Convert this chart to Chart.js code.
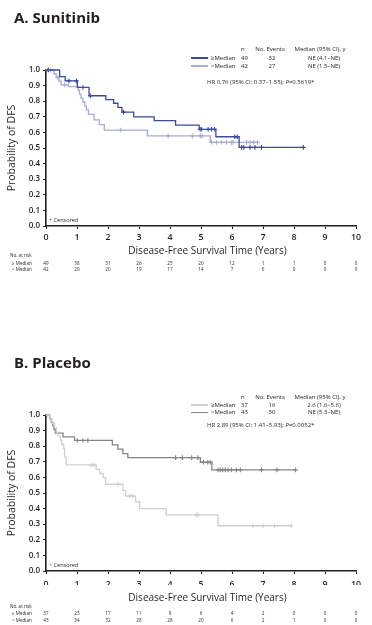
<!DOCTYPE html>
<html>
<head>
<meta charset="utf-8">
<script src="https://cdn.jsdelivr.net/npm/chart.js@4.4.1/dist/chart.umd.min.js"></script>
<style>
  html, body { margin: 0; padding: 0; background: #fff; }
  body { width: 372px; height: 625px; position: relative; overflow: hidden;
         font-family: "Open Sans", "Noto Sans", sans-serif; color: #231f20; }
  canvas { position: absolute; left: 0; }
  .t { position: absolute; white-space: nowrap; line-height: 1; }
</style>
</head>
<body>
<canvas id="chartA" width="372" height="240" style="top:0px"></canvas>
<canvas id="chartB" width="372" height="240" style="top:345px"></canvas>
<script>
// ---------- shared axis ticks ----------
const xTicks = [0, 1, 2, 3, 4, 5, 6, 7, 8, 9, 10];
const yTicks = [0, 0.1, 0.2, 0.3, 0.4, 0.5, 0.6, 0.7, 0.8, 0.9, 1.0];

// ---------- Panel A: Sunitinib ----------
const aHiTimes = [0, 0.44, 0.62, 1.01, 1.39, 1.93, 2.18, 2.32, 2.45, 2.83, 3.49, 4.18, 4.94, 5.48, 6.23, 8.30];
const aHiSurv  = [1.0, 0.957, 0.93, 0.888, 0.835, 0.81, 0.787, 0.76, 0.73, 0.70, 0.675, 0.647, 0.62, 0.572, 0.504, 0.504];
const aHiCens  = [0.08, 0.74, 0.98, 1.19, 1.43, 2.50, 4.97, 5.01, 5.23, 5.34, 5.44, 6.09, 6.17, 6.31, 6.38, 6.58, 6.74, 6.95, 8.30];

const aLoTimes = [0, 0.25, 0.33, 0.42, 0.49, 0.72, 1.03, 1.08, 1.13, 1.19, 1.25, 1.30, 1.37, 1.55, 1.72, 1.88, 3.27, 5.30, 6.82];
const aLoSurv  = [1.0, 0.976, 0.952, 0.928, 0.905, 0.893, 0.87, 0.845, 0.82, 0.795, 0.77, 0.745, 0.715, 0.68, 0.65, 0.615, 0.578, 0.536, 0.536];
const aLoCens  = [0.05, 0.15, 0.38, 0.60, 2.41, 3.94, 4.72, 4.98, 5.03, 5.34, 5.50, 5.66, 5.82, 5.98, 6.03, 6.47, 6.58, 6.70, 6.82];

const aHiRisk = [49, 38, 31, 26, 25, 20, 12, 1, 1, 0, 0];
const aLoRisk = [42, 29, 20, 19, 17, 14, 7, 0, 0, 0, 0];

// ---------- Panel B: Placebo ----------
const bHiTimes = [0, 0.12, 0.19, 0.27, 0.33, 0.38, 0.47, 0.51, 0.57, 0.60, 0.65, 1.62, 1.73, 1.84, 1.92, 2.48, 2.57, 2.89, 3.02, 3.88, 5.55, 7.91];
const bHiSurv  = [1.0, 0.973, 0.946, 0.919, 0.892, 0.865, 0.838, 0.811, 0.784, 0.73, 0.68, 0.652, 0.625, 0.598, 0.556, 0.515, 0.48, 0.444, 0.40, 0.36, 0.29, 0.29];
const bHiCens  = [0.06, 1.46, 1.55, 2.32, 2.70, 2.80, 4.85, 4.90, 6.67, 7.00, 7.37, 7.91];

const bLoTimes = [0, 0.12, 0.17, 0.22, 0.26, 0.30, 0.55, 0.92, 2.14, 2.32, 2.48, 2.64, 4.98, 5.35, 8.05];
const bLoSurv  = [1.0, 0.977, 0.953, 0.93, 0.907, 0.884, 0.86, 0.837, 0.809, 0.781, 0.753, 0.727, 0.697, 0.648, 0.648];
const bLoCens  = [1.01, 1.19, 1.35, 4.18, 4.40, 4.70, 4.90, 5.08, 5.22, 5.30, 5.55, 5.62, 5.70, 5.78, 5.87, 5.98, 6.14, 6.27, 6.95, 7.45, 8.05];

const bHiRisk = [37, 23, 17, 11, 9, 6, 4, 2, 0, 0, 0];
const bLoRisk = [43, 34, 32, 28, 28, 20, 6, 2, 1, 0, 0];

// ---------- style ----------
const FONT = '"Open Sans", "Noto Sans", sans-serif';
const TXT = '#231f20';
const AXIS = '#231f20';
const A_DARK = '#3d4a9b';
const A_LIGHT = '#a9acd8';
const B_DARK = '#858585';
const B_LIGHT = '#cfcfcf';

function stepValue(times, surv, t) {
  let v = surv[0];
  for (let i = 0; i < times.length; i++) if (times[i] <= t) v = surv[i];
  return v;
}

function buildChart(id, series, xPad) {
  const datasets = [];
  series.forEach(s => datasets.push({
    label: s.label,
    data: s.times.map((t, i) => ({ x: t, y: s.surv[i] })),
    showLine: true, stepped: 'before', borderColor: s.color, backgroundColor: s.color,
    borderWidth: 1.3, pointRadius: 0, fill: false, clip: false
  }));
  series.forEach(s => datasets.push({
    label: s.label + ' censored',
    data: s.cens.map(t => ({ x: t, y: stepValue(s.times, s.surv, t) })),
    showLine: false, pointStyle: 'cross', pointRadius: 2.3, pointBorderWidth: 1.1,
    borderColor: s.color, backgroundColor: s.color, clip: false
  }));
  return new Chart(document.getElementById(id), {
    type: 'scatter',
    data: { datasets },
    options: {
      responsive: false, animation: false, events: [],
      layout: { padding: { top: 70, left: 0, right: 16, bottom: 0 } },
      plugins: { legend: { display: false }, tooltip: { enabled: false } },
      scales: {
        x: {
          type: 'linear', min: 0, max: 10,
          afterBuildTicks: sc => { sc.ticks = xTicks.map(v => ({ value: v })); },
          afterFit: sc => { sc.height = 14; },
          grid: { drawOnChartArea: false, drawTicks: true, tickLength: 3, tickColor: AXIS, tickWidth: 1.1 },
          border: { color: AXIS, width: 1.6 },
          ticks: { color: TXT, font: { family: FONT, size: 8.8, weight: '600' }, padding: xPad,
                   maxRotation: 0, autoSkip: false, callback: v => String(v) }
        },
        y: {
          type: 'linear', min: 0, max: 1,
          afterBuildTicks: sc => { sc.ticks = yTicks.map(v => ({ value: v })); },
          afterFit: sc => { sc.width = 46; },
          grid: { drawOnChartArea: false, drawTicks: true, tickLength: 3, tickColor: AXIS, tickWidth: 1.1 },
          border: { color: AXIS, width: 1.6 },
          ticks: { color: TXT, font: { family: FONT, size: 8, weight: '600' }, padding: 3,
                   callback: v => Number(v).toFixed(1) },
          title: { display: true, text: 'Probability of DFS', color: TXT,
                   font: { family: FONT, size: 10.5 }, padding: { top: 5.5, bottom: 0 } }
        }
      }
    }
  });
}

function txt(html, x, cy, fs, opt) {
  opt = opt || {};
  const d = document.createElement('div');
  d.className = 't';
  d.innerHTML = html;
  d.style.fontSize = fs + 'px';
  d.style.top = (cy - 0.53 * fs) + 'px';
  if (opt.weight) d.style.fontWeight = opt.weight;
  if (opt.color) d.style.color = opt.color;
  const align = opt.align || 'left';
  d.style.left = x + 'px';
  if (align === 'center') d.style.transform = 'translateX(-50%)';
  if (align === 'right') d.style.transform = 'translateX(-100%)';
  document.body.appendChild(d);
  return d;
}

function line(x1, x2, y, color) {
  const d = document.createElement('div');
  d.style.cssText = `position:absolute;left:${x1}px;top:${y - 0.7}px;width:${x2 - x1}px;height:1.4px;background:${color}`;
  document.body.appendChild(d);
}

function panel(chart, top, cfg) {
  const xs = chart.scales.x;
  // title
  txt(cfg.title, 14, top + 17.5, 15, { weight: '700' });
  // legend table
  const lf = 6;
  txt('n', 241, top + cfg.legY[0], lf);
  txt('No. Events', 270, top + cfg.legY[0], lf, { align: 'center' });
  txt('Median (95% CI), y', 320, top + cfg.legY[0], lf, { align: 'center' });
  cfg.rows.forEach((r, i) => {
    const y = top + cfg.legY[i + 1];
    line(190.5, 208, y, r.color);
    txt(r.name, 211, y, lf);
    txt(String(r.n), 241, y, lf);
    txt(String(r.ev), 272, y, lf, { align: 'center' });
    txt(r.med, 324, y, lf, { align: 'center' });
  });
  txt(cfg.hr, 207, top + cfg.legY[3], lf);
  // censored note
  txt('<span style="color:' + cfg.censColor + '">+</span> Censored', 49, top + cfg.censY, 5.5);
  // x title
  txt('Disease-Free Survival Time (Years)', 207.5, top + cfg.xTitleY, 10, { align: 'center' });
  // number at risk
  txt('No. at risk', 10, top + cfg.riskY[0], 4.6);
  txt('\u2265 Median', 12, top + cfg.riskY[1], 4.6);
  txt('&lt; Median', 12, top + cfg.riskY[2], 4.6);
  xTicks.forEach((v, i) => {
    const px = xs.getPixelForValue(v);
    txt(String(cfg.risk[0][i]), px, top + cfg.riskY[1], 4.6, { align: 'center' });
    txt(String(cfg.risk[1][i]), px, top + cfg.riskY[2], 4.6, { align: 'center' });
  });
}

const chartA = buildChart('chartA', [
  { label: '\u2265Median', times: aHiTimes, surv: aHiSurv, cens: aHiCens, color: A_DARK },
  { label: '<Median', times: aLoTimes, surv: aLoSurv, cens: aLoCens, color: A_LIGHT }
], 3);
const chartB = buildChart('chartB', [
  { label: '\u2265Median', times: bHiTimes, surv: bHiSurv, cens: bHiCens, color: B_LIGHT },
  { label: '<Median', times: bLoTimes, surv: bLoSurv, cens: bLoCens, color: B_DARK }
], 5);

panel(chartA, 0, {
  title: 'A. Sunitinib',
  legY: [49, 58, 66, 82],
  rows: [
    { name: '\u2265Median', n: 49, ev: 32, med: 'NE (4.1\u2013NE)', color: A_DARK },
    { name: '&lt;Median', n: 42, ev: 27, med: 'NE (1.5\u2013NE)', color: A_LIGHT }
  ],
  hr: 'HR 0.76 (95% CI: 0.37\u20131.55); <i>P</i>=0.5619*',
  censColor: A_DARK, censY: 220.5, xTitleY: 250,
  riskY: [255, 263, 269.5],
  risk: [aHiRisk, aLoRisk]
});
panel(chartB, 345, {
  title: 'B. Placebo',
  legY: [52, 60, 67.5, 80],
  rows: [
    { name: '\u2265Median', n: 37, ev: 16, med: '2.6 (1.6\u20135.6)', color: B_LIGHT },
    { name: '&lt;Median', n: 43, ev: 30, med: 'NE (5.3\u2013NE)', color: B_DARK }
  ],
  hr: 'HR 2.89 (95% CI: 1.41\u20135.93); <i>P</i>=0.0052*',
  censColor: B_DARK, censY: 221, xTitleY: 252,
  riskY: [261, 268, 275],
  risk: [bHiRisk, bLoRisk]
});
</script>
</body>
</html>
